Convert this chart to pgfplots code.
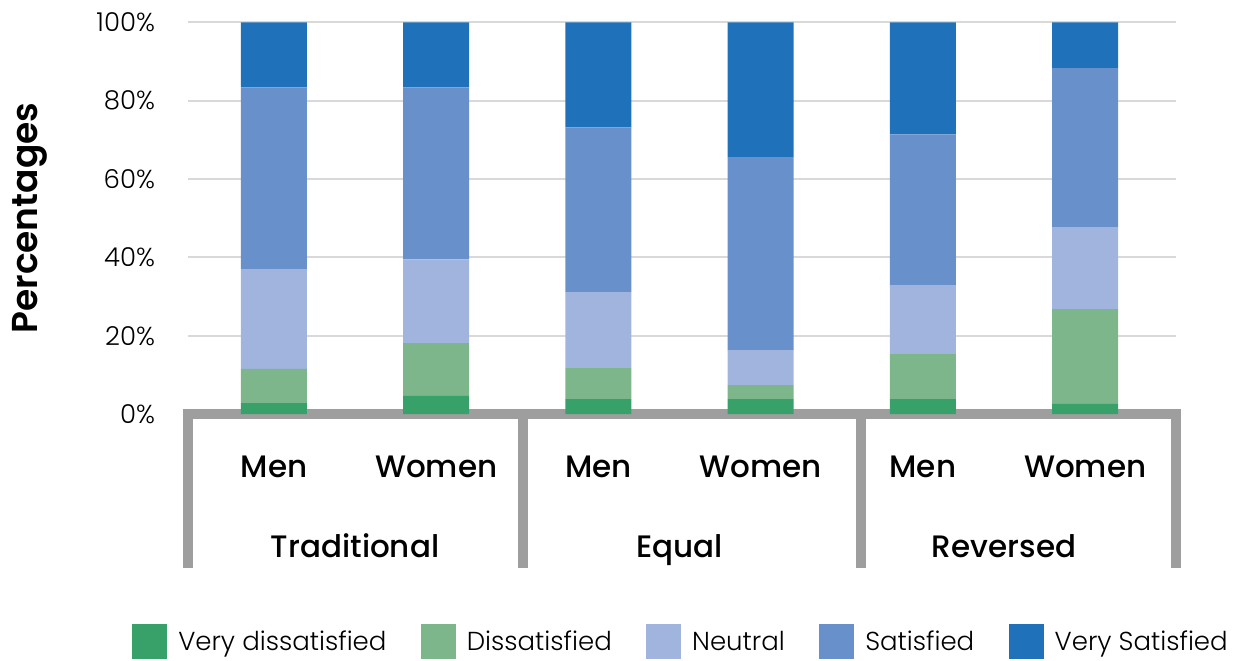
\documentclass[border=0pt]{standalone}
\usepackage{fontspec}
\setmainfont{Poppins}
\newfontfamily\medfont{Poppins Medium}
\newfontfamily\semifont{Poppins SemiBold}
\newfontfamily\lightfont{Poppins Light}
\usepackage{pgfplots}
\pgfplotsset{compat=1.18}

\definecolor{vdis}{HTML}{38A169}
\definecolor{dis}{HTML}{7DB68A}
\definecolor{neu}{HTML}{A1B4DE}
\definecolor{sat}{HTML}{6891CB}
\definecolor{vsat}{HTML}{1F71BA}
\definecolor{framegray}{HTML}{9E9E9E}
\definecolor{gridgray}{HTML}{D9D9D9}

\pgfplotsset{sq/.style={legend image code/.code={\fill[##1] (0pt,-8.75pt) rectangle (17.5pt,8.75pt); \path (21pt,0pt);}}}

\begin{document}
\begin{tikzpicture}
\begin{axis}[
    at={(0pt,0pt)}, anchor=south west,
    scale only axis,
    width=494pt, height=195.85pt,
    ybar stacked,
    bar width=33pt,
    xmin=-0.53, xmax=5.56,
    ymin=0, ymax=100,
    xtick={0,1,2,3,4,5},
    xticklabels={Men,Women,Men,Women,Men,Women},
    ytick={0,20,40,60,80,100},
    axis line style={draw=none},
    major tick length=0pt,
    ymajorgrids,
    grid style={gridgray, line width=1pt},
    /pgf/number format/assume math mode=true,
    yticklabel={\pgfmathprintnumber{\tick}\%},
    yticklabel style={font=\lightfont\fontsize{13}{13}\selectfont, xshift=-13pt},
    xticklabel style={font=\medfont\fontsize{15.5}{15.5}\selectfont, anchor=base, yshift=-31.5pt},
    clip=false,
    legend style={at={(0.5,-0.582)}, anchor=center, legend columns=-1, draw=none,
        font=\lightfont\fontsize{13}{13}\selectfont,
        /tikz/every even column/.append style={column sep=15.2pt}},
    legend cell align=left,
]
% Traditional M, Traditional W, Equal M, Equal W, Reversed M, Reversed W
\addplot[fill=vdis, draw=none, sq] coordinates {(0,2.8) (1,4.6) (2,3.8) (3,3.8) (4,3.8) (5,2.6)};
\addplot[fill=dis, draw=none, sq] coordinates {(0,8.7) (1,13.5) (2,7.9) (3,3.6) (4,11.5) (5,24.2)};
\addplot[fill=neu, draw=none, sq] coordinates {(0,25.5) (1,21.4) (2,19.4) (3,8.9) (4,17.6) (5,20.9)};
\addplot[fill=sat, draw=none, sq] coordinates {(0,46.4) (1,43.9) (2,42.1) (3,49.3) (4,38.5) (5,40.6)};
\addplot[fill=vsat, draw=none, sq] coordinates {(0,16.6) (1,16.6) (2,26.8) (3,34.4) (4,28.6) (5,11.7)};
\legend{Very dissatisfied, Dissatisfied, Neutral, Satisfied, Very Satisfied}

% grey category frame
\draw[framegray, line width=5pt] ([yshift=-77pt]axis cs:-0.53,0) -- (axis cs:-0.53,0) -- (axis cs:5.56,0) -- ([yshift=-77pt]axis cs:5.56,0);
\draw[framegray, line width=5pt] (axis cs:1.535,0) -- ([yshift=-77pt]axis cs:1.535,0);
\draw[framegray, line width=5pt] (axis cs:3.619,0) -- ([yshift=-77pt]axis cs:3.619,0);

\node[font=\medfont\fontsize{15.5}{15.5}\selectfont, anchor=base] at ([yshift=-71.5pt]axis cs:0.5,0) {Traditional};
\node[font=\medfont\fontsize{15.5}{15.5}\selectfont, anchor=base] at ([yshift=-71.5pt]axis cs:2.5,0) {Equal};
\node[font=\medfont\fontsize{15.5}{15.5}\selectfont, anchor=base] at ([yshift=-71.5pt]axis cs:4.5,0) {Reversed};

\node[rotate=90, font=\semifont\fontsize{18}{18}\selectfont] at ([xshift=-79pt]rel axis cs:0,0.5) {Percentages};
\end{axis}
\pgfresetboundingbox
\path[use as bounding box] (-94pt,-123pt) rectangle (527pt,207pt);
\end{tikzpicture}
\end{document}
